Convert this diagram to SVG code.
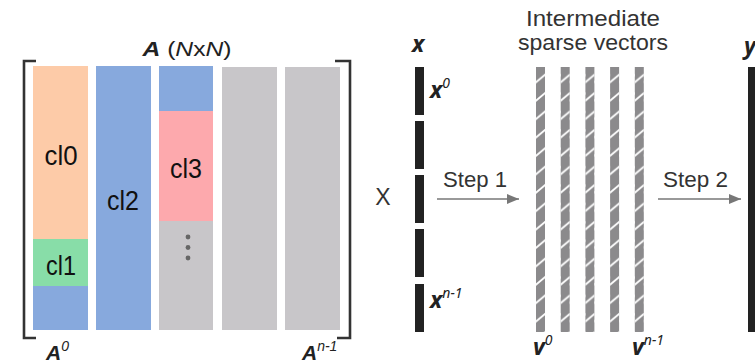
<svg xmlns="http://www.w3.org/2000/svg" width="755" height="363" viewBox="0 0 755 363">
<defs>
<style>
.cl{font-family:"Liberation Sans",Arial,sans-serif;font-size:28px;fill:#111;text-anchor:middle}
.ml{font-family:"Liberation Sans",Arial,sans-serif;font-size:21px;fill:#222;font-style:italic}
.lab{font-family:"Liberation Sans",Arial,sans-serif;font-size:22px;fill:#333}
.vl{font-family:"Noto Sans","Open Sans",sans-serif;font-size:23px;fill:#222;font-style:italic;font-weight:bold}
.sup{font-size:14px;font-weight:normal}
.msup{font-size:14px}
.bar{fill:#222}
.br{fill:none;stroke:#333;stroke-width:2.6}
.arr{stroke:#777;stroke-width:1.6;fill:none}
</style>
<pattern id="stripe" patternUnits="userSpaceOnUse" x="0" y="0" width="9" height="18.4">
<rect width="9" height="18.4" fill="#8b8a8c"/>
<line x1="-1" y1="16" x2="10" y2="7" stroke="#fff" stroke-width="1.8"/>
</pattern>
<marker id="ah" markerWidth="12" markerHeight="10" refX="12" refY="5" orient="auto" markerUnits="userSpaceOnUse">
<path d="M0,0 L12,5 L0,10 Z" fill="#777"/>
</marker>
</defs>

<g id="matrixA">
<path class="br" d="M36,61 H24 V338 H36"/>
<path class="br" d="M335,61 H350 V338 H337"/>
<text class="ml" x="187" y="56" text-anchor="middle" textLength="89" lengthAdjust="spacingAndGlyphs"><tspan font-weight="bold">A</tspan><tspan font-style="normal"> (</tspan>N<tspan font-style="normal">x</tspan>N<tspan font-style="normal">)</tspan></text>
<text class="ml" x="46" y="360"><tspan font-weight="bold">A</tspan><tspan class="msup" dy="-9">0</tspan></text>
<text class="ml" x="302" y="360"><tspan font-weight="bold">A</tspan><tspan class="msup" dy="-9">n-1</tspan></text>
</g>

<g id="col0">
<rect x="33" y="66" width="55" height="173" fill="#fdcba8"/>
<rect x="33" y="239" width="55" height="47" fill="#88dda8"/>
<rect x="33" y="286" width="55" height="44" fill="#87a9dd"/>
<text class="cl" x="61" y="165" textLength="33" lengthAdjust="spacingAndGlyphs">cl0</text>
<text class="cl" x="61" y="275" textLength="30" lengthAdjust="spacingAndGlyphs">cl1</text>
</g>
<g id="col1">
<rect x="96" y="66" width="55" height="264" fill="#87a9dd"/>
<text class="cl" x="123" y="210" textLength="32" lengthAdjust="spacingAndGlyphs">cl2</text>
</g>
<g id="col2">
<rect x="159" y="66" width="54" height="45" fill="#87a9dd"/>
<rect x="159" y="111" width="54" height="110" fill="#fda9ad"/>
<rect x="159" y="221" width="54" height="109" fill="#c8c6c9"/>
<text class="cl" x="186" y="178" textLength="32" lengthAdjust="spacingAndGlyphs">cl3</text>
<circle cx="188" cy="237" r="2.4" fill="#666"/>
<circle cx="188" cy="247.5" r="2.4" fill="#666"/>
<circle cx="188" cy="258" r="2.4" fill="#666"/>
</g>
<g id="col3"><rect x="222" y="67" width="55" height="263" fill="#c8c6c9"/></g>
<g id="col4"><rect x="285" y="67" width="55" height="263" fill="#c8c6c9"/></g>

<g id="times"><text class="lab" x="383" y="205" text-anchor="middle" style="font-size:23px">X</text></g>

<g id="vecx">
<text class="vl" x="412" y="52">x</text>
<rect class="bar" x="415" y="67" width="9" height="48"/>
<rect class="bar" x="415" y="121" width="9" height="48"/>
<rect class="bar" x="415" y="175" width="9" height="48"/>
<rect class="bar" x="415" y="229" width="9" height="48"/>
<rect class="bar" x="415" y="284" width="9" height="48"/>
<text class="vl" x="430" y="98">x<tspan class="sup" dy="-10">0</tspan></text>
<text class="vl" x="430" y="308">x<tspan class="sup" dy="-10">n-1</tspan></text>
</g>

<g id="sparse">
<text class="lab" x="593" y="26" text-anchor="middle" textLength="134" lengthAdjust="spacingAndGlyphs">Intermediate</text>
<text class="lab" x="593" y="50" text-anchor="middle" textLength="150" lengthAdjust="spacingAndGlyphs">sparse vectors</text>
<g transform="translate(536,67)"><rect width="9" height="265" fill="url(#stripe)"/></g>
<g transform="translate(560.7,67)"><rect width="9" height="265" fill="url(#stripe)"/></g>
<g transform="translate(585.4,67)"><rect width="9" height="265" fill="url(#stripe)"/></g>
<g transform="translate(610.1,67)"><rect width="9" height="265" fill="url(#stripe)"/></g>
<g transform="translate(634.8,67)"><rect width="9" height="265" fill="url(#stripe)"/></g>
<text class="vl" x="533" y="355">v<tspan class="sup" dy="-10">0</tspan></text>
<text class="vl" x="632" y="355">v<tspan class="sup" dy="-10">n-1</tspan></text>
</g>

<g id="vecy">
<text class="vl" x="744" y="54">y</text>
<rect class="bar" x="748" y="67" width="9" height="265"/>
</g>

<g id="connectors">
<line class="arr" x1="437" y1="199" x2="519" y2="199" marker-end="url(#ah)"/>
<line class="arr" x1="658" y1="199" x2="741" y2="199" marker-end="url(#ah)"/>
<text class="lab" x="443" y="187" textLength="64" lengthAdjust="spacingAndGlyphs">Step 1</text>
<text class="lab" x="663" y="187" textLength="65" lengthAdjust="spacingAndGlyphs">Step 2</text>
</g>
</svg>
